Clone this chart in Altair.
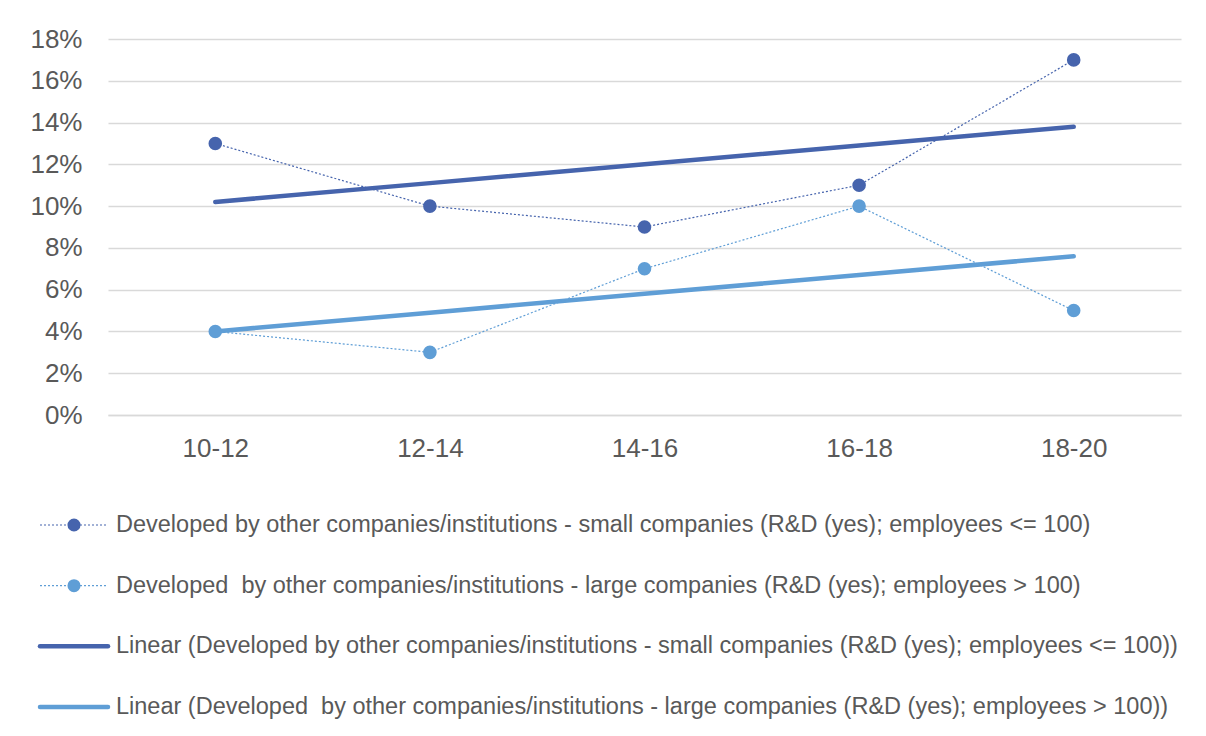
import altair as alt
import numpy as np
import pandas as pd

periods = ["10-12", "12-14", "14-16", "16-18", "18-20"]
small_vals = [0.13, 0.10, 0.09, 0.11, 0.17]
large_vals = [0.04, 0.03, 0.07, 0.10, 0.05]

name_small = "Developed by other companies/institutions - small companies (R&D (yes); employees <= 100)"
name_large = "Developed\u00a0 by other companies/institutions - large companies (R&D (yes); employees > 100)"
name_small_lin = "Linear (" + name_small + ")"
name_large_lin = "Linear (" + name_large + ")"
names = [name_small, name_large, name_small_lin, name_large_lin]
kinds = ["data", "data", "trend", "trend"]

c_dark = "#4664AD"
c_light = "#5F9ED6"
FONT = "Liberation Sans"
TXT = "#595959"

rows = []
xs = np.arange(len(periods))
for nm, lin, vals in [(name_small, name_small_lin, small_vals), (name_large, name_large_lin, large_vals)]:
    slope, intercept = np.polyfit(xs, vals, 1)
    for i, p in enumerate(periods):
        rows.append({"period": p, "value": vals[i], "series": nm, "kind": "data"})
        rows.append({"period": p, "value": float(intercept + slope * i), "series": lin, "kind": "trend"})
df = pd.DataFrame(rows)

df_leg = pd.DataFrame({"series": names, "kind": kinds})

color = alt.Color(
    "series:N",
    scale=alt.Scale(domain=names, range=[c_dark, c_light, c_dark, c_light]),
    legend=None,
)

x = alt.X(
    "period:O",
    sort=periods,
    scale=alt.Scale(type="point", padding=0.5),
    axis=alt.Axis(
        title=None, labelAngle=0, ticks=False, tickSize=0, domain=True,
        domainColor="#d9d9d9", domainWidth=1.3, grid=False, labelFontSize=26,
        labelFont=FONT, labelColor=TXT, labelPadding=20,
    ),
)
y = alt.Y(
    "value:Q",
    scale=alt.Scale(domain=[0, 0.18], nice=False),
    axis=alt.Axis(
        title=None, format=".0%", values=[i / 100 for i in range(0, 19, 2)],
        ticks=False, tickSize=0, domain=False, gridColor="#d9d9d9", gridWidth=1.4,
        labelFontSize=26, labelFont=FONT, labelColor=TXT,
        labelPadding=26,
    ),
)

base = alt.Chart(df)

trend = base.transform_filter("datum.kind == 'trend'").mark_line(
    strokeWidth=4.5, strokeCap="round"
).encode(x=x, y=y, color=color, detail="series:N")

dline = base.transform_filter("datum.kind == 'data'").mark_line(
    strokeWidth=1.2, strokeDash=[2, 2]
).encode(x=x, y=y, color=color, detail="series:N")

pts = base.transform_filter("datum.kind == 'data'").mark_circle(
    size=185, opacity=1
).encode(x=x, y=y, color=color)

main = alt.layer(trend, dline, pts)

# custom legend rows (independent y scale placing rows below the plot)
ly = alt.Y(
    "series:N", sort=names,
    scale=alt.Scale(type="point", range=[486, 668], padding=0),
    axis=None,
)
lbase = alt.Chart(df_leg)
leg_dot_line = lbase.transform_filter("datum.kind == 'data'").mark_rule(
    strokeWidth=1.2, strokeDash=[2, 2]
).encode(x=alt.value(-68), x2=alt.value(-1), y=ly, color=color)
leg_dot = lbase.transform_filter("datum.kind == 'data'").mark_circle(
    size=170, opacity=1
).encode(x=alt.value(-34), y=ly, color=color)
leg_trend = lbase.transform_filter("datum.kind == 'trend'").mark_rule(
    strokeWidth=4.5, strokeCap="round"
).encode(x=alt.value(-68), x2=alt.value(0), y=ly, color=color)
leg_text = lbase.mark_text(
    align="left", baseline="middle", fontSize=23.5, font=FONT, color=TXT
).encode(x=alt.value(8), y=ly, text="series:N")

leg = alt.layer(leg_dot_line, leg_dot, leg_trend, leg_text)

chart = alt.layer(main, leg).resolve_scale(y="independent").properties(
    width=1073,
    height=376,
    background="white",
    autosize=alt.AutoSizeParams(type="none"),
    padding={"left": 100, "top": 31, "right": 17, "bottom": 313},
).configure_view(stroke=None)

chart.save("out.html", embed_options={"renderer": "svg", "actions": False})
